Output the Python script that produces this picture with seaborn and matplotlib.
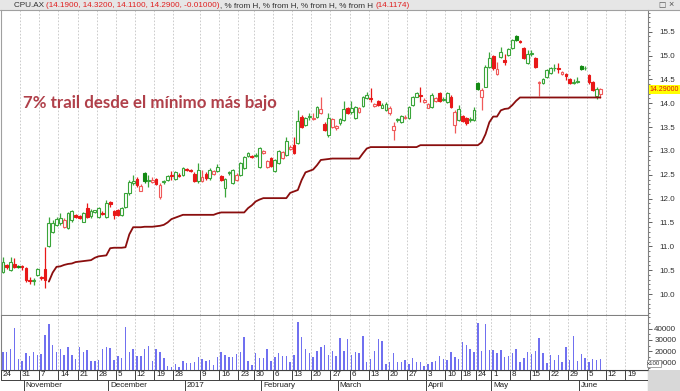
import numpy as np
import pandas as pd
import matplotlib
matplotlib.use("Agg")
import matplotlib.pyplot as plt
import seaborn as sns
from matplotlib.patches import Rectangle
from matplotlib.lines import Line2D
import matplotlib.transforms as mtransforms

sns.set_theme(style="white")
plt.rcParams['font.family'] = ['Liberation Sans', 'DejaVu Sans']

# ---------------- data ----------------
holidays = ["2016-12-26", "2016-12-27", "2017-01-02", "2017-01-26",
            "2017-04-14", "2017-04-17", "2017-04-25"]

opens = [10.47, 10.60, 10.50, 10.63, 10.58, 10.58, 10.54, 10.30, 10.28, 10.40,
         10.35, 10.52, 11.01, 11.31, 11.45, 11.48, 11.41, 11.38, 11.55, 11.66,
         11.64, 11.52, 11.80, 11.63, 11.72, 11.62, 11.70, 11.62, 11.92, 11.73,
         11.76, 11.66, 11.83, 12.11, 12.33, 12.42, 12.17, 12.53, 12.37, 12.35,
         12.42, 12.03, 12.34, 12.39, 12.50, 12.41, 12.50, 12.50, 12.62, 12.60,
         12.52, 12.36, 12.36, 12.52, 12.43, 12.52, 12.57, 12.48, 12.22, 12.54,
         12.32, 12.39, 12.50, 12.64, 12.90, 12.90, 12.90, 12.67, 12.95, 12.67,
         12.85, 12.57, 12.74, 12.85, 12.92, 13.04, 13.13, 13.16, 13.72, 13.55,
         13.71, 13.66, 13.72, 13.80, 13.56, 13.33, 13.51, 13.47, 13.58, 13.65,
         13.89, 13.82, 13.68, 13.82, 13.94, 14.10, 14.10, 13.94, 14.05, 13.91,
         13.86, 13.79, 13.44, 13.65, 13.61, 13.68, 13.68, 13.96, 14.14, 14.17,
         14.03, 13.91, 13.93, 14.05, 14.21, 14.07, 14.03, 14.14, 13.54, 13.65,
         13.73, 13.70, 13.64, 13.65, 14.42, 14.14, 14.35, 14.76, 14.99, 14.62,
         14.97, 14.90, 15.01, 15.15, 15.40, 15.30, 15.15, 14.84, 15.04, 14.94,
         14.43, 14.42, 14.55, 14.64, 14.73, 14.74, 14.61, 14.61, 14.50, 14.43,
         14.45, 14.78, 14.73, 14.59, 14.45, 14.15, 14.19]
highs = [10.77, 10.62, 10.77, 10.75, 10.60, 10.60, 10.56, 10.36, 10.33, 10.55,
         10.38, 10.98, 11.62, 11.55, 11.62, 11.69, 11.60, 11.72, 11.76, 11.68,
         11.66, 11.72, 11.90, 11.78, 11.76, 11.82, 11.73, 11.97, 11.94, 11.76,
         11.78, 11.83, 12.12, 12.40, 12.50, 12.45, 12.30, 12.56, 12.50, 12.45,
         12.44, 12.33, 12.40, 12.50, 12.57, 12.57, 12.53, 12.67, 12.64, 12.62,
         12.55, 12.74, 12.60, 12.55, 12.64, 12.60, 12.72, 12.50, 12.43, 12.58,
         12.62, 12.53, 12.76, 12.90, 12.98, 12.92, 12.95, 13.08, 13.02, 12.80,
         12.87, 12.83, 13.02, 13.00, 13.30, 13.12, 13.30, 13.86, 13.75, 13.72,
         13.79, 13.80, 13.95, 14.14, 13.60, 13.79, 13.70, 13.55, 13.70, 14.05,
         13.92, 14.05, 13.95, 13.92, 14.16, 14.24, 14.31, 14.01, 14.07, 14.00,
         14.03, 13.94, 13.61, 13.70, 13.76, 13.75, 13.95, 14.16, 14.24, 14.35,
         14.10, 14.00, 14.21, 14.12, 14.24, 14.12, 14.23, 14.17, 13.85, 13.96,
         13.76, 13.72, 13.72, 13.93, 14.45, 14.32, 14.80, 15.08, 15.01, 14.87,
         15.18, 15.04, 15.16, 15.34, 15.43, 15.32, 15.17, 15.11, 15.12, 14.96,
         14.46, 14.53, 14.72, 14.76, 14.82, 14.84, 14.68, 14.63, 14.52, 14.50,
         14.55, 14.81, 14.78, 14.61, 14.47, 14.35, 14.32]
lows = [10.45, 10.52, 10.48, 10.54, 10.54, 10.50, 10.26, 10.22, 10.19, 10.38,
        10.30, 10.12, 10.99, 11.28, 11.42, 11.45, 11.38, 11.36, 11.52, 11.60,
        11.57, 11.50, 11.60, 11.60, 11.70, 11.60, 11.66, 11.60, 11.83, 11.58,
        11.64, 11.64, 11.80, 12.08, 12.28, 12.25, 12.15, 12.33, 12.25, 12.32,
        12.28, 12.00, 12.30, 12.37, 12.39, 12.40, 12.46, 12.48, 12.58, 12.55,
        12.34, 12.32, 12.34, 12.40, 12.40, 12.50, 12.55, 12.37, 12.04, 12.50,
        12.30, 12.37, 12.48, 12.62, 12.88, 12.86, 12.88, 12.65, 12.93, 12.65,
        12.67, 12.55, 12.72, 12.83, 12.90, 13.02, 12.93, 13.14, 13.49, 13.52,
        13.65, 13.64, 13.70, 13.78, 13.42, 13.30, 13.48, 13.44, 13.55, 13.63,
        13.77, 13.78, 13.66, 13.80, 13.92, 14.08, 14.03, 13.92, 13.94, 13.89,
        13.84, 13.75, 13.23, 13.60, 13.58, 13.66, 13.66, 13.94, 14.12, 14.03,
        14.00, 13.90, 13.90, 14.03, 14.03, 14.04, 14.00, 13.90, 13.37, 13.62,
        13.60, 13.55, 13.60, 13.63, 14.27, 13.86, 14.33, 14.74, 14.70, 14.60,
        14.94, 14.80, 14.99, 15.13, 15.30, 15.27, 14.92, 14.82, 14.98, 14.73,
        14.15, 14.40, 14.53, 14.62, 14.67, 14.63, 14.59, 14.49, 14.40, 14.40,
        14.42, 14.69, 14.70, 14.40, 14.26, 14.08, 14.11]
closes = [10.68, 10.57, 10.68, 10.56, 10.57, 10.56, 10.29, 10.28, 10.30, 10.52,
          10.34, 10.29, 11.48, 11.49, 11.57, 11.59, 11.55, 11.69, 11.73, 11.62,
          11.60, 11.69, 11.62, 11.75, 11.76, 11.80, 11.68, 11.90, 11.88, 11.66,
          11.66, 11.80, 12.11, 12.35, 12.36, 12.28, 12.27, 12.36, 12.40, 12.39,
          12.30, 12.28, 12.36, 12.48, 12.47, 12.55, 12.48, 12.64, 12.60, 12.58,
          12.36, 12.60, 12.45, 12.43, 12.60, 12.58, 12.67, 12.39, 12.41, 12.55,
          12.60, 12.50, 12.74, 12.88, 12.95, 12.88, 12.92, 13.06, 13.00, 12.78,
          12.69, 12.81, 12.99, 12.98, 13.20, 13.09, 12.95, 13.62, 13.51, 13.69,
          13.72, 13.70, 13.93, 13.88, 13.44, 13.68, 13.66, 13.52, 13.67, 13.87,
          13.79, 13.90, 13.93, 13.89, 14.14, 14.17, 14.08, 13.99, 13.96, 13.97,
          13.99, 13.91, 13.52, 13.66, 13.73, 13.72, 13.93, 14.14, 14.21, 14.15,
          14.07, 13.98, 14.17, 14.10, 14.05, 14.08, 14.21, 13.93, 13.82, 13.88,
          13.63, 13.58, 13.66, 13.86, 14.29, 14.28, 14.76, 14.94, 14.73, 14.72,
          15.08, 14.86, 15.13, 15.32, 15.33, 15.29, 14.94, 15.04, 15.06, 14.75,
          14.45, 14.50, 14.70, 14.73, 14.74, 14.72, 14.66, 14.56, 14.42, 14.45,
          14.46, 14.71, 14.74, 14.45, 14.28, 14.30, 14.29]
trail = [np.nan] * 12 + [
    10.26, 10.45, 10.57, 10.58, 10.61, 10.63, 10.64, 10.67, 10.68, 10.69,
    10.70, 10.71, 10.76, 10.79, 10.80, 10.81, 10.96, 10.97, 10.97, 10.97,
    10.98, 11.25, 11.40, 11.40, 11.40, 11.41, 11.41, 11.41, 11.42, 11.43,
    11.45, 11.50, 11.57, 11.60, 11.63, 11.66, 11.66, 11.66, 11.66, 11.66,
    11.66, 11.66, 11.66, 11.66, 11.69, 11.71, 11.71, 11.71, 11.71, 11.71,
    11.71, 11.71, 11.80, 11.86, 11.94, 11.98, 12.01, 12.01, 12.01, 12.01,
    12.01, 12.01, 12.01, 12.12, 12.15, 12.18, 12.39, 12.55, 12.58, 12.61,
    12.70, 12.81, 12.82, 12.83, 12.84, 12.84, 12.84, 12.84, 12.84, 12.84,
    12.84, 12.84, 12.95, 13.05, 13.08, 13.08, 13.08, 13.08, 13.08, 13.08,
    13.08, 13.08, 13.08, 13.08, 13.08, 13.08, 13.08, 13.12, 13.12, 13.12,
    13.12, 13.12, 13.12, 13.12, 13.12, 13.12, 13.12, 13.12, 13.12, 13.12,
    13.12, 13.12, 13.12, 13.18, 13.35, 13.60, 13.72, 13.72, 13.85, 13.88,
    13.89, 13.96, 14.05, 14.12, 14.12, 14.12, 14.12, 14.12, 14.12, 14.12,
    14.12, 14.12, 14.12, 14.12, 14.12, 14.12, 14.12, 14.12, 14.12, 14.12,
    14.12, 14.12, 14.12, 14.12, 14.12]
volumes = [19380, 19380, 21720, 40140, 13240, 11480, 18210, 16160, 19090, 16450,
           17620, 34290, 43940, 25810, 19670, 22010, 17040, 23470, 17040, 13240,
           24060, 19380, 21130, 11770, 11770, 12360, 22010, 24060, 23180, 12360,
           15870, 13820, 41020, 19380, 22300, 15870, 15870, 22010, 24640, 11480,
           21720, 19090, 14110, 7100, 6500, 8850, 6500, 11480, 9440, 9440,
           10310, 15280, 12940, 11770, 12360, 7680, 15280, 19380, 16750, 14700,
           15280, 17330, 19670, 32830, 11770, 7980, 18210, 14410, 14410, 21720,
           11480, 15280, 18210, 16160, 16160, 10310, 16450, 45400, 32830, 22010,
           18790, 14990, 20260, 23470, 25520, 16450, 19960, 16160, 31370, 20550,
           30490, 16750, 19090, 18210, 33710, 10310, 13530, 19960, 30490, 29030,
           8850, 10610, 18210, 10310, 10310, 12360, 8850, 13820, 10310, 10310,
           7100, 8560, 10310, 11480, 15870, 12940, 12360, 19090, 15280, 12940,
           28150, 25810, 22300, 19670, 44520, 20260, 43940, 21130, 20840, 18790,
           21130, 14700, 15870, 18790, 22010, 10900, 14410, 19380, 17620, 19960,
           31370, 18790, 10020, 17040, 12360, 16750, 10900, 23470, 12360, 33410,
           11190, 17620, 13820, 10610, 12940, 12360, 12940]

week_tick_dates = ["2016-10-24", "2016-10-31", "2016-11-07", "2016-11-14", "2016-11-21",
                   "2016-11-28", "2016-12-05", "2016-12-12", "2016-12-19", "2016-12-28",
                   "2017-01-09", "2017-01-16", "2017-01-23", "2017-01-30", "2017-02-06",
                   "2017-02-13", "2017-02-20", "2017-02-27", "2017-03-06", "2017-03-13",
                   "2017-03-20", "2017-03-27", "2017-04-03", "2017-04-10", "2017-04-18",
                   "2017-04-24", "2017-05-01", "2017-05-08", "2017-05-15", "2017-05-22",
                   "2017-05-29", "2017-06-05", "2017-06-12", "2017-06-19"]
week_tick_labels = ["24", "31", "7", "14", "21", "28", "5", "12", "19", "28",
                    "9", "16", "23", "30", "6", "13", "20", "27", "6", "13",
                    "20", "27", "3", "10", "18", "24", "1", "8", "15", "22",
                    "29", "5", "12", "19"]
month_dates = ["2016-11-01", "2016-12-01", "2017-01-03", "2017-02-01",
               "2017-03-01", "2017-04-03", "2017-05-01", "2017-06-01"]
month_labels = ["November", "December", "2017", "February", "March", "April", "May", "June"]

price_ticks = [10.0, 10.5, 11.0, 11.5, 12.0, 12.5, 13.0, 13.5, 14.0, 14.5, 15.0, 15.5]
vol_ticks = [10000, 20000, 30000, 40000]

# ---------------- geometry ----------------
W, H = 680, 391
cal = pd.bdate_range("2016-10-24", "2017-07-14")
cal = cal[~cal.isin(pd.to_datetime(holidays))]
n = len(closes)
xs = np.arange(n) + 0.5
wk_pos = [cal.get_loc(pd.Timestamp(d)) for d in week_tick_dates]
mo_pos = [cal.get_loc(pd.Timestamp(d)) for d in month_dates]

px_left, px_right = 1.0, 647.7
slot = 3.83
xmax = (px_right - px_left) / slot

fig = plt.figure(figsize=(W / 100, H / 100), dpi=100)
fig.patch.set_facecolor("white")

def fx(px):
    return px / W

def fy(py):
    return 1 - py / H

ax = fig.add_axes([fx(px_left), fy(315), fx(px_right - px_left), (315 - 10) / H])
axv = fig.add_axes([fx(px_left), fy(369.5), fx(px_right - px_left), (369.5 - 316) / H])
axd = fig.add_axes([fx(px_left), 0, fx(px_right - px_left), 21.5 / H])

for a in (ax, axv):
    a.set_facecolor("white")
    a.set_xlim(0, xmax)
    for s in a.spines.values():
        s.set_color("#808080")
        s.set_linewidth(0.8)
    a.spines["top"].set_visible(False)
    a.set_xticks([])
    for p in wk_pos:
        a.axvline(p, color="#c4c4c4", lw=0.6, ls=(0, (2, 2)), zorder=0)

ax.spines["left"].set_color("#a0a0a0")
ax.set_ylim(9.56, 15.954)
axv.set_ylim(4035, 50965)

# candles
O = np.array(opens); Hh = np.array(highs); L = np.array(lows); C = np.array(closes)
prev = np.concatenate([[C[0] - 0.01], C[:-1]])
up = C > prev
filled = C < O
styles = {
    (True, False): ("#3aa53a", "white"),
    (True, True): ("#138a13", "#138a13"),
    (False, False): ("#f05a5a", "white"),
    (False, True): ("#e81818", "#e81818"),
}
for (u, f), (ec, fc) in styles.items():
    m = (up == u) & (filled == f)
    if not m.any():
        continue
    ax.vlines(xs[m], L[m], Hh[m], color=ec, lw=0.9, zorder=2)
    bottoms = np.minimum(O[m], C[m])
    heights = np.maximum(np.abs(C[m] - O[m]), 0.012)
    ax.bar(xs[m], heights, bottom=bottoms, width=0.72, color=fc,
           edgecolor=ec, linewidth=0.8, zorder=3)

sns.lineplot(x=xs, y=trail, ax=ax, color="#8a0e0e", lw=1.3, zorder=4)

# volume
axv.bar(xs, volumes, width=0.38, color="#7070f0", linewidth=0, zorder=2)

# right axes ticks
for a, ticks, fmt, pad in ((ax, price_ticks, "{:.1f}", 5.5), (axv, vol_ticks, "{:d}", 1.5)):
    a.yaxis.tick_right()
    a.set_yticks(ticks)
    a.set_yticklabels([fmt.format(t) for t in ticks])
    a.tick_params(axis="y", which="major", direction="out", length=3.2, width=0.7,
                  color="#606060", labelsize=5.8, labelcolor="#303030", pad=pad,
                  right=True, left=False)
    a.tick_params(axis="y", which="minor", direction="out", length=1.6, width=0.6,
                  color="#606060", right=True, left=False)
ax.set_yticks(np.arange(9.6, 15.95, 0.1), minor=True)
axv.set_yticks(np.arange(5000, 50001, 5000), minor=True)
ax.set_ylabel(""); axv.set_ylabel("")
ax.grid(False); axv.grid(False)

# last-price tag
tr = mtransforms.blended_transform_factory(ax.transAxes, ax.transData)
ax.text(1.0035, closes[-1], "14.29000", transform=tr, ha="left", va="center",
        fontsize=5.0, color="#e01010",
        bbox=dict(boxstyle="square,pad=0.15", fc="#ffff00", ec="none"), zorder=6, clip_on=False)

trv = mtransforms.blended_transform_factory(axv.transAxes, axv.transData)
axv.text(0.9995, 9300, "x100", transform=trv, ha="left", va="center", fontsize=4.4,
         color="#303030", bbox=dict(boxstyle="square,pad=0.1", fc="white", ec="#808080", lw=0.5),
         zorder=6, clip_on=False)

# annotation
ax.text((23 - px_left) / slot, 14.0, "7% trail desde el mínimo más bajo",
        family=["Lato", "DejaVu Sans"], fontweight="bold", fontsize=12.2,
        color="#b0404a", ha="left", va="center", zorder=5)

# date rows
axd.set_xlim(0, xmax)
axd.set_ylim(0, 2)
axd.axis("off")
axd.axhline(2, color="#404040", lw=0.8)
axd.axhline(1, color="#404040", lw=0.7)
axd.axhline(0.02, color="#404040", lw=0.7)
for p, lab in zip(wk_pos, week_tick_labels):
    axd.vlines(p, 1, 2, color="#404040", lw=0.7)
    axd.text(p + 0.45, 1.5, lab, fontsize=5.8, color="#202020", ha="left", va="center")
for p, lab in zip(mo_pos, month_labels):
    axd.vlines(p, 0, 1, color="#404040", lw=0.7)
    axd.text(p + 0.45, 0.5, lab, fontsize=5.8, color="#202020", ha="left", va="center")
axd.vlines(xmax - 0.05, 0, 2, color="#404040", lw=0.8)

fig.add_artist(Rectangle((fx(px_right), 0), 1 - fx(px_right), 21.5 / H,
                         transform=fig.transFigure, fc="#d8d8d8", ec="none", zorder=0))

# title bar
fig.add_artist(Rectangle((0, fy(10)), 1, 10 / H, transform=fig.transFigure,
                         fc="#e6e6e6", ec="none", zorder=0))
fig.add_artist(Line2D([0, 1], [fy(10), fy(10)], transform=fig.transFigure,
                      color="#a0a0a0", lw=0.8))
pieces = [("CPU.AX ", "#303030"),
          ("(14.1900, 14.3200, 14.1100, 14.2900, -0.01000)", "#e02020"),
          (", % from H, % from H, % from H, % from H ", "#303030"),
          ("(14.1174)", "#e02020")]
renderer = fig.canvas.get_renderer()
xcur = 14
for txt, col in pieces:
    t = fig.text(fx(xcur), fy(5.2), txt, fontsize=5.9, color=col, ha="left", va="center")
    bb = t.get_window_extent(renderer)
    xcur += bb.width
fig.text(fx(658), fy(5), "\u25a1", fontsize=5.5, color="#505050", ha="left", va="center",
         family=["DejaVu Sans"])
fig.text(fx(668), fy(5), "\u00d7", fontsize=6.5, color="#505050", ha="left", va="center")

fig.savefig("out.png", dpi=100)
